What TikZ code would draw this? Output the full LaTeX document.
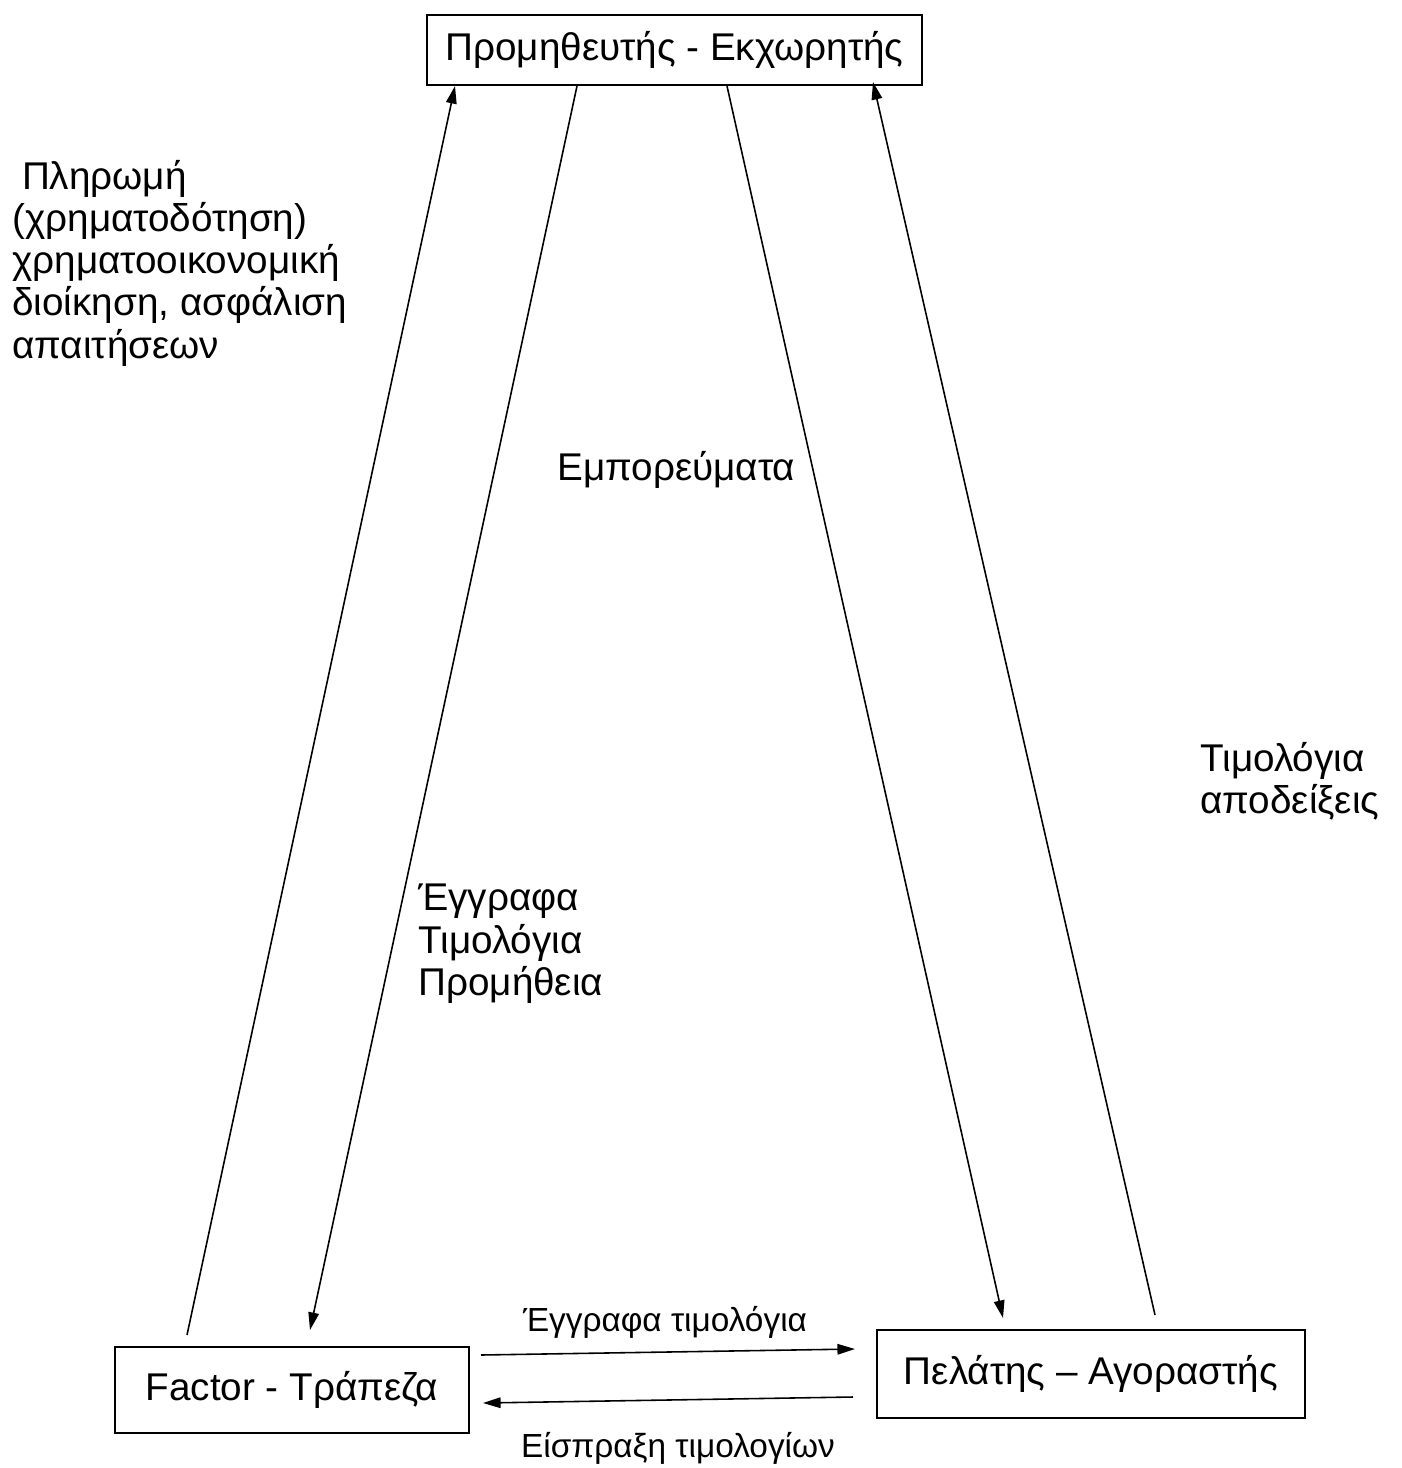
\documentclass[tikz,border=0pt]{standalone}
\usepackage{fontspec}
\setmainfont{Liberation Sans}
\usetikzlibrary{arrows.meta}
\begin{document}
\begin{tikzpicture}[x=0.02cm,y=-0.02cm,
  box/.style={draw,line width=1.3pt,inner sep=0pt,font=\fontsize{22}{26}\selectfont},
  conn/.style={line width=0.9pt,-{Triangle[length=10pt,width=6pt]}},
  lbl/.style={inner sep=0pt,font=\fontsize{22}{24}\selectfont,align=left},
  slbl/.style={inner sep=0pt,font=\fontsize{19}{22}\selectfont}]
\useasboundingbox (0,0) rectangle (1401,1468);
\node[box,minimum width=9.9cm,minimum height=1.4cm] (sup) at (674.5,50) {Προμηθευτής - Εκχωρητής};
\node[box,minimum width=7.08cm,minimum height=1.72cm] (fac) at (292,1390) {Factor - Τράπεζα};
\node[box,minimum width=8.56cm,minimum height=1.76cm] (cli) at (1091,1374) {Πελάτης – Αγοραστής};
% endpoints
\coordinate (a1) at (187,1335); \coordinate (a1e) at (455,86);
\coordinate (a2) at (577,86);   \coordinate (a2e) at (310,1330);
\coordinate (a3) at (727,86);   \coordinate (a3e) at (1003,1318);
\coordinate (a4) at (1155,1315);\coordinate (a4e) at (873,82);
\coordinate (a5) at (481,1355); \coordinate (a5e) at (855,1349);
\coordinate (a6) at (853,1397); \coordinate (a6e) at (483,1403);
\draw[conn] (a1) -- (a1e);
\draw[conn] (a2) -- (a2e);
\draw[conn] (a3) -- (a3e);
\draw[conn] (a4) -- (a4e);
\draw[conn] (a5) -- (a5e);
\draw[conn] (a6) -- (a6e);
% labels
\node[lbl,anchor=north west] (pay) at (12,160) {\hspace{0.25em}Πληρωμή\\(χρηματοδότηση)\\χρηματοοικονομική\\διοίκηση, ασφάλιση\\απαιτήσεων};
\node[lbl,anchor=west] (goods) at (557,470) {Εμπορεύματα};
\node[lbl,anchor=north west] (inv) at (1200,742) {Τιμολόγια\\αποδείξεις};
\node[lbl,anchor=north west] (docs) at (418,884) {Έγγραφα\\Τιμολόγια\\Προμήθεια};
\node[slbl] (l5) at (665,1322) {Έγγραφα τιμολόγια};
\node[slbl] (l6) at (678,1448) {Είσπραξη τιμολογίων};
\end{tikzpicture}
\end{document}
